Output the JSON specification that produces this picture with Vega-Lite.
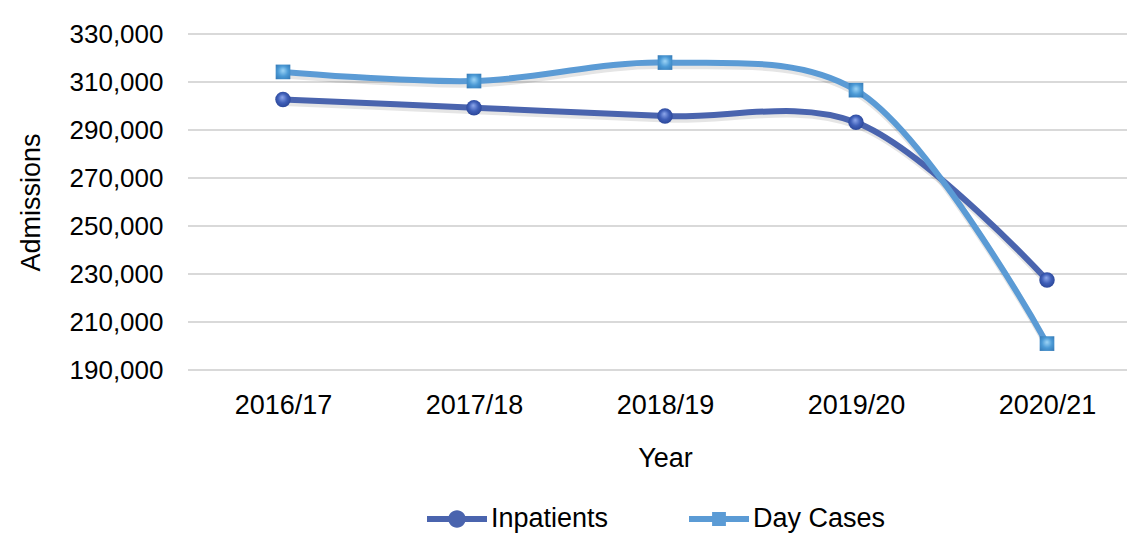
{
  "$schema": "https://vega.github.io/schema/vega-lite/v6.json",
  "autosize": {"type": "none"},
  "padding": {"left": 188, "top": 34, "right": 0, "bottom": 163},
  "width": 939,
  "height": 336,
  "background": "white",
  "config": {
    "view": {"stroke": null},
    "font": "Liberation Sans",
    "axis": {"labelFont": "Liberation Sans", "titleFont": "Liberation Sans", "labelColor": "#000000", "titleColor": "#000000", "titleFontWeight": "normal"},
    "legend": {"labelFont": "Liberation Sans"}
  },
  "layer": [
    {
      "data": {"values": [{"g": 190000}, {"g": 210000}, {"g": 230000}, {"g": 250000}, {"g": 270000}, {"g": 290000}, {"g": 310000}, {"g": 330000}]},
      "mark": {"type": "rule", "color": "#d9d9d9", "strokeWidth": 2},
      "encoding": {
        "y": {"field": "g", "type": "quantitative", "title": "Admissions",
          "scale": {"domain": [190000, 330000], "nice": false, "zero": false},
          "axis": {"values": [190000, 210000, 230000, 250000, 270000, 290000, 310000, 330000], "format": ",d", "ticks": false, "domain": false, "grid": false, "labelFontSize": 26, "titleFontSize": 27, "labelPadding": 25, "titlePadding": 24}}
      }
    },
    {
      "data": {
        "values": [
          {"year": "2016/17", "series": "Inpatients", "value": 302700},
          {"year": "2017/18", "series": "Inpatients", "value": 299300},
          {"year": "2018/19", "series": "Inpatients", "value": 295800},
          {"year": "2019/20", "series": "Inpatients", "value": 293200},
          {"year": "2020/21", "series": "Inpatients", "value": 227500},
          {"year": "2016/17", "series": "Day Cases", "value": 314200},
          {"year": "2017/18", "series": "Day Cases", "value": 310400},
          {"year": "2018/19", "series": "Day Cases", "value": 318100},
          {"year": "2019/20", "series": "Day Cases", "value": 306600},
          {"year": "2020/21", "series": "Day Cases", "value": 201000}
        ]
      },
      "encoding": {
        "x": {
          "field": "year", "type": "ordinal", "title": "Year",
          "scale": {"type": "point", "range": [95, 859], "padding": 0},
          "axis": {"labelAngle": 0, "ticks": false, "domain": false, "grid": false, "labelFontSize": 27, "titleFontSize": 27, "labelPadding": 22, "titlePadding": 27}
        },
        "y": {
          "field": "value", "type": "quantitative", "title": "Admissions",
          "scale": {"domain": [190000, 330000], "nice": false, "zero": false},
          "axis": {"values": [190000, 210000, 230000, 250000, 270000, 290000, 310000, 330000], "format": ",d", "ticks": false, "domain": false, "grid": false, "labelFontSize": 26, "titleFontSize": 27, "labelPadding": 25, "titlePadding": 24}
        }
      },
      "layer": [
        {
          "mark": {"type": "line", "strokeWidth": 7, "interpolate": "catmull-rom", "color": "#000000", "opacity": 0.1, "yOffset": 3, "xOffset": 1},
          "encoding": {"detail": {"field": "series", "type": "nominal"}}
        },
        {
          "mark": {"type": "line", "strokeWidth": 6, "interpolate": "catmull-rom"},
          "encoding": {
            "color": {
              "field": "series", "type": "nominal",
              "scale": {"domain": ["Inpatients", "Day Cases"], "range": ["#4A64AE", "#5B9BD5"]},
              "legend": {
                "orient": "none", "legendX": 239, "legendY": 455, "direction": "horizontal", "title": null,
                "labelFontSize": 27, "labelColor": "#000000", "symbolSize": 3600, "labelOffset": 4,
                "columnPadding": 80,
                "encode": {
                  "symbols": {
                    "update": {
                      "shape": {"signal": "datum.value === 'Inpatients' ? 'M-1,-0.1H1V0.1H-1Z M0.29,0A0.29,0.29 0 1,1 -0.29,0A0.29,0.29 0 1,1 0.29,0Z' : 'M-1,-0.1H1V0.1H-1Z M-0.23,-0.23H0.23V0.23H-0.23Z'"},
                      "fill": {"signal": "datum.value === 'Inpatients' ? '#4A64AE' : '#5B9BD5'"},
                      "strokeWidth": {"value": 0},
                      "opacity": {"value": 1}
                    }
                  }
                }
              }
            }
          }
        },
        {
          "transform": [{"filter": "datum.series === 'Inpatients'"}],
          "mark": {
            "type": "point", "shape": "circle", "size": 240, "filled": true, "opacity": 1,
            "fill": {"gradient": "radial", "x1": 0.45, "y1": 0.35, "r1": 0, "x2": 0.5, "y2": 0.5, "r2": 0.6,
              "stops": [{"offset": 0, "color": "#8fa8ec"}, {"offset": 0.5, "color": "#3f5fb8"}, {"offset": 1, "color": "#253f8e"}]},
            "stroke": null
          }
        },
        {
          "transform": [{"filter": "datum.series === 'Day Cases'"}],
          "mark": {
            "type": "point", "shape": "square", "size": 215, "filled": true, "opacity": 1,
            "fill": {"gradient": "radial", "x1": 0.5, "y1": 0.4, "r1": 0, "x2": 0.5, "y2": 0.5, "r2": 0.7,
              "stops": [{"offset": 0, "color": "#9fd6f7"}, {"offset": 0.5, "color": "#4b9ad6"}, {"offset": 1, "color": "#3377b3"}]},
            "stroke": null
          }
        }
      ]
    }
  ]
}
